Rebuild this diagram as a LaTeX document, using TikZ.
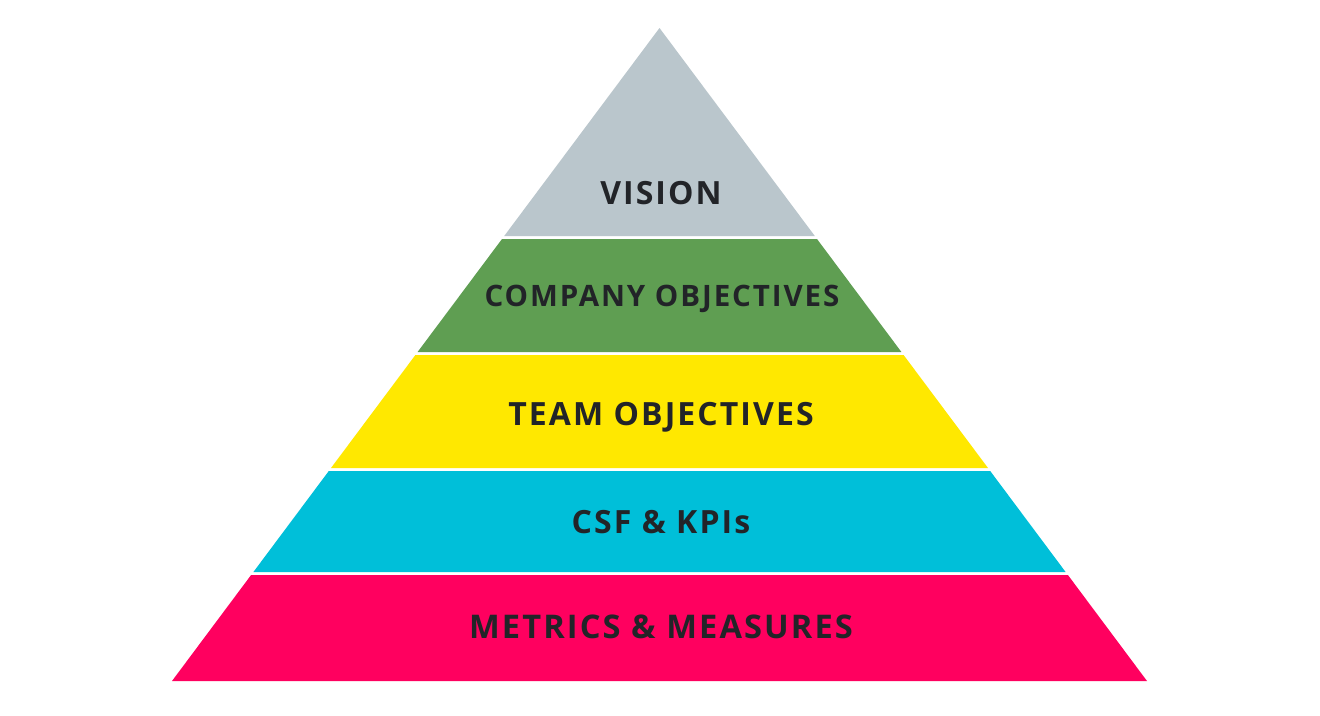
\documentclass[tikz,border=0pt]{standalone}
\usepackage{fontspec}
\setmainfont{Open Sans}
\newfontfamily\lblfont[LetterSpace=6.5]{Open Sans}
\definecolor{cgray}{HTML}{BAC6CC}
\definecolor{cgreen}{HTML}{5F9E52}
\definecolor{cyellow}{HTML}{FFE800}
\definecolor{ccyan}{HTML}{00BFD9}
\definecolor{cmag}{HTML}{FF005F}
\definecolor{ctext}{HTML}{222428}
\begin{document}
\begin{tikzpicture}[x=1pt,y=-1pt,
  lbl/.style={font=\lblfont\fontsize{32}{38}\selectfont\bfseries, text=ctext, inner sep=0pt, anchor=base},
  lblsmall/.style={lbl, font=\lblfont\fontsize{29.5}{35}\selectfont\bfseries},
  lblbig/.style={lbl, font=\lblfont\fontsize{32.6}{38}\selectfont\bfseries}]
\useasboundingbox[fill=white] (0,0) rectangle (1320,715);
% bands
\fill[cgray]   (659.5,28) -- (814.8,236) -- (504.2,236) -- cycle;
\fill[cgreen]  (502.0,239) -- (817.0,239) -- (901.4,352) -- (417.6,352) -- cycle;
\fill[cyellow] (415.4,355) -- (903.6,355) -- (988.0,468) -- (331.0,468) -- cycle;
\fill[ccyan]   (328.8,471) -- (990.2,471) -- (1065.6,572) -- (253.4,572) -- cycle;
\fill[cmag]    (251.1,575) -- (1067.9,575) -- (1147.0,681) -- (172.0,681) -- cycle;
% labels
\node[lbl] (vision) at (661,204) {VISION};
\node[lblsmall] (company) at (662,306) {COMPANY OBJECTIVES};
\node[lbl] (team) at (661,425) {TEAM OBJECTIVES};
\node[lbl] (csf) at (661,533) {CSF \& KPIs};
\node[lblbig] (metrics) at (661,638) {METRICS \& MEASURES};
\end{tikzpicture}
\end{document}
